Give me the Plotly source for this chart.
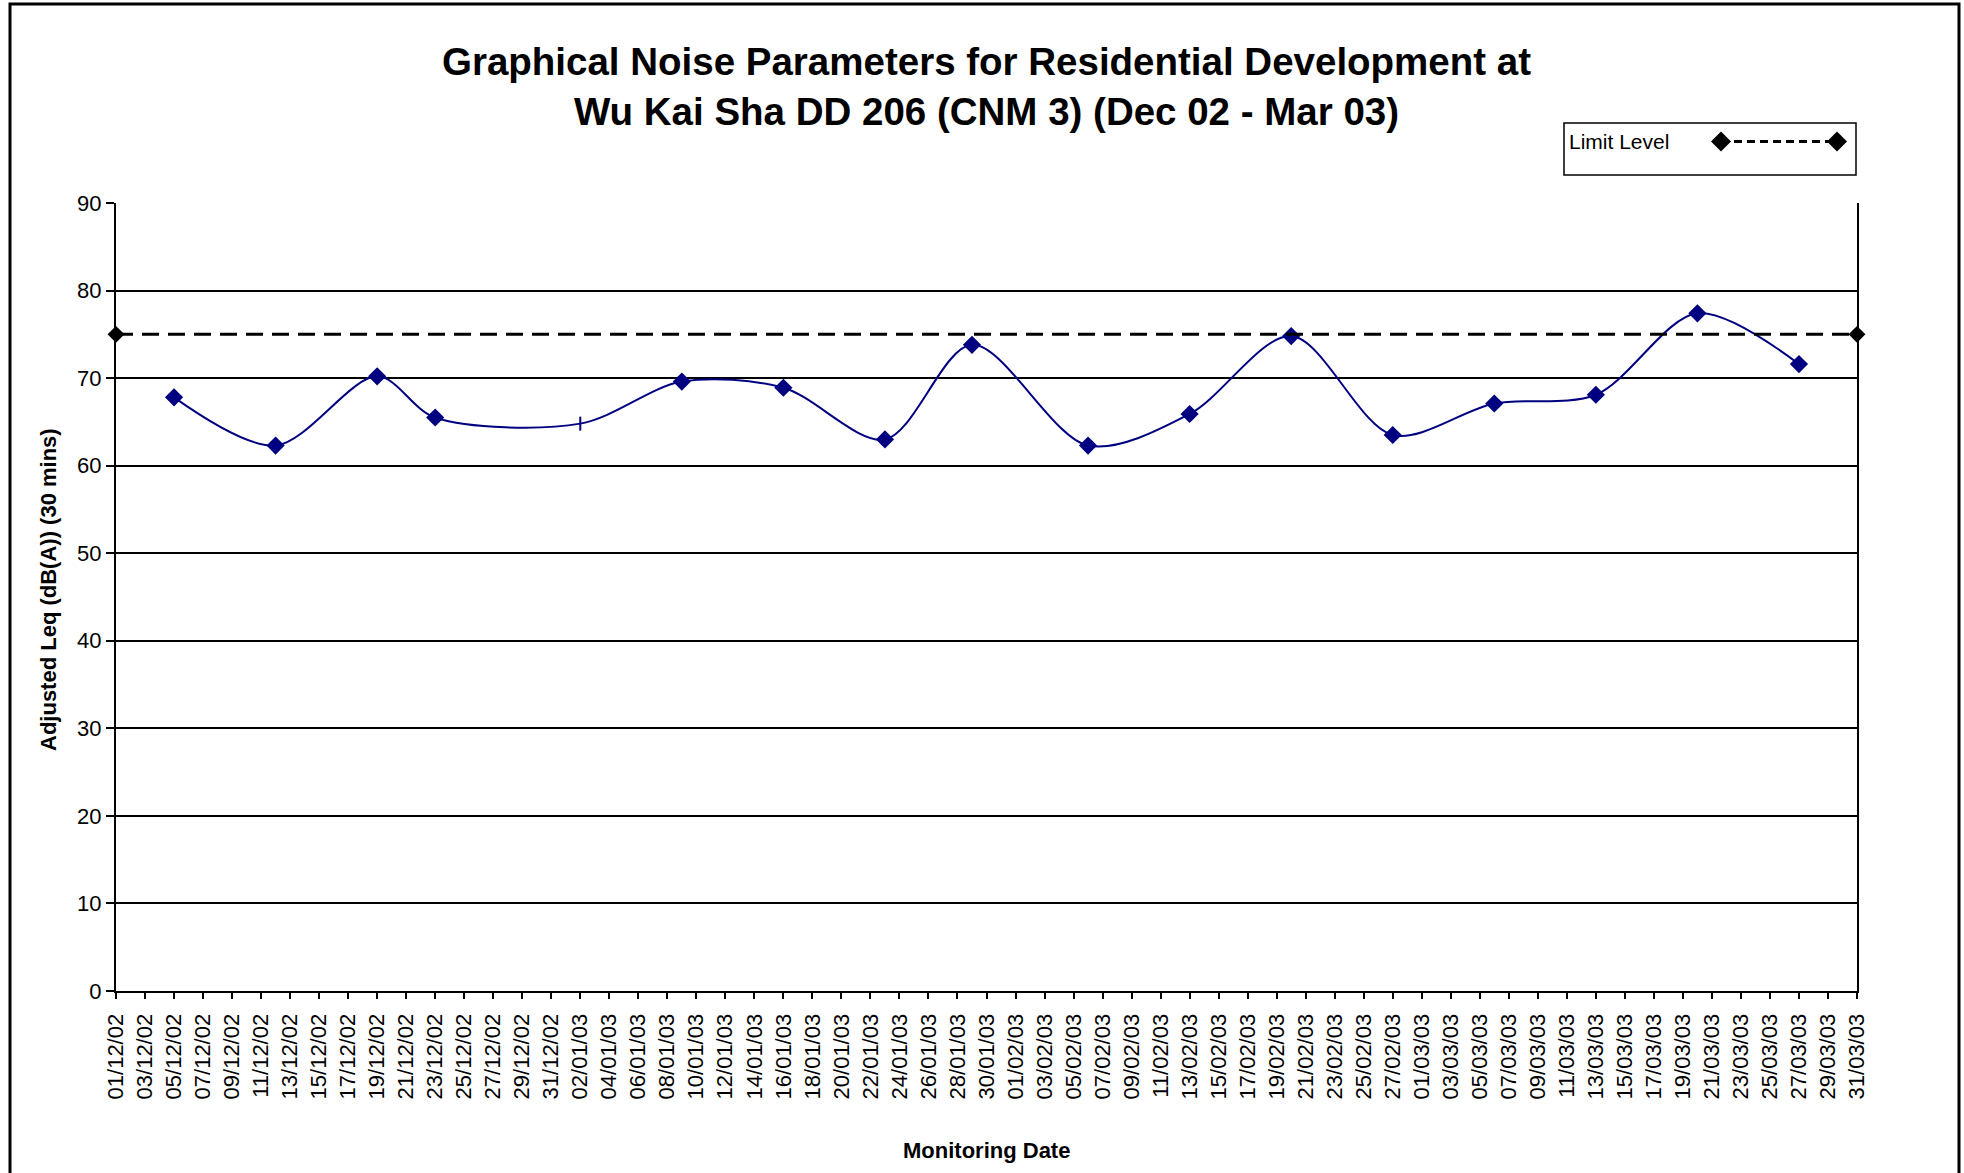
import plotly.graph_objects as go

# ---- data ----
dates = ["2002-12-05", "2002-12-12", "2002-12-19", "2002-12-23", "2003-01-02",
         "2003-01-09", "2003-01-16", "2003-01-23", "2003-01-29", "2003-02-06",
         "2003-02-13", "2003-02-20", "2003-02-27", "2003-03-06", "2003-03-13",
         "2003-03-20", "2003-03-27"]
leq = [67.8, 62.3, 70.2, 65.5, 64.8, 69.6, 68.9, 63.0, 73.8, 62.3,
       65.9, 74.8, 63.5, 67.1, 68.1, 77.4, 71.6]
marker_kind = ["diamond", "diamond", "diamond", "diamond", "line-ns",
               "diamond", "diamond", "diamond", "diamond", "diamond",
               "diamond", "diamond", "diamond", "diamond", "diamond",
               "diamond", "diamond"]

limit_dates = ["2002-12-01", "2003-03-31"]
limit_values = [75, 75]

y_ticks = [0, 10, 20, 30, 40, 50, 60, 70, 80, 90]

title_text = ("Graphical Noise Parameters for Residential Development at<br>"
              "Wu Kai Sha DD 206 (CNM 3) (Dec 02 - Mar 03)")
ytitle = "Adjusted Leq (dB(A)) (30 mins)"
xtitle = "Monitoring Date"
legend_name = "Limit Level"

FONT = "Liberation Sans, Arial, sans-serif"
NAVY = "#000080"

W, H = 1964, 1173
# plot-area geometry in page pixels
L, R, T, B = 116, 1857, 203, 991
PW, PH = R - L, B - T


def px(x):
    return (x - L) / PW


def py(y):
    return (B - y) / PH


fig = go.Figure()

fig.add_trace(go.Scatter(
    x=dates, y=leq, mode="lines+markers",
    line=dict(color=NAVY, width=2, shape="spline", smoothing=0.9),
    marker=dict(symbol=marker_kind, size=[14 if m == "diamond" else 10 for m in marker_kind],
                color=NAVY, opacity=1,
                line=dict(color=NAVY, width=[0 if m == "diamond" else 2 for m in marker_kind])),
    showlegend=False, cliponaxis=False,
))

fig.add_trace(go.Scatter(
    x=limit_dates, y=limit_values, mode="lines+markers", name=legend_name,
    line=dict(color="black", width=3, dash="17px,9px"),
    marker=dict(symbol="diamond", size=13, color="black", opacity=1),
    showlegend=False, cliponaxis=False,
))

shapes = []
# outer chart border
shapes.append(dict(type="rect", xref="paper", yref="paper",
                   x0=px(10), x1=px(1959), y0=py(1200), y1=py(4),
                   line=dict(color="black", width=3), fillcolor="rgba(0,0,0,0)"))
# legend box
lx0, lx1, ly0, ly1 = 1564, 1856, 123, 175
shapes.append(dict(type="rect", xref="paper", yref="paper",
                   x0=px(lx0), x1=px(lx1), y0=py(ly1), y1=py(ly0),
                   line=dict(color="black", width=1.5), fillcolor="white"))
ly = 141.5
d1, d2 = 1721, 1837
shapes.append(dict(type="line", xref="paper", yref="paper",
                   x0=px(d1), x1=px(d2), y0=py(ly), y1=py(ly),
                   line=dict(color="black", width=3, dash="8px,5px")))


def diamond(cx, cy, hw=10, hh=10):
    return (f"M{px(cx - hw)},{py(cy)} L{px(cx)},{py(cy - hh)} "
            f"L{px(cx + hw)},{py(cy)} L{px(cx)},{py(cy + hh)} Z")


for dx in (d1, d2):
    shapes.append(dict(type="path", xref="paper", yref="paper",
                       path=diamond(dx, ly), fillcolor="black",
                       line=dict(color="black", width=0)))

annotations = [
    dict(text=legend_name, xref="paper", yref="paper", x=px(1567), y=py(ly),
         xanchor="left", yanchor="middle", showarrow=False,
         font=dict(family=FONT, size=21, color="black")),
    dict(text=f"<b>{xtitle}</b>", xref="paper", yref="paper", x=0.5, y=py(1150),
         xanchor="center", yanchor="middle", showarrow=False,
         font=dict(family=FONT, size=22, color="black")),
    dict(text=f"<b>{ytitle}</b>", xref="paper", yref="paper", x=px(48), y=py(590),
         xanchor="center", yanchor="middle", textangle=-90, showarrow=False,
         font=dict(family=FONT, size=22, color="black")),
]

fig.update_layout(
    width=W, height=H,
    margin=dict(l=L, r=W - R, t=T, b=H - B, pad=0),
    paper_bgcolor="white", plot_bgcolor="white",
    title=dict(text=f"<b>{title_text}</b>", x=0.5, xref="paper",
               y=1 - 75 / H, yref="container", yanchor="middle",
               font=dict(family=FONT, size=38.5, color="black")),
    shapes=shapes, annotations=annotations,
    font=dict(family=FONT, color="black"),
)

fig.update_xaxes(
    type="date", range=[limit_dates[0], limit_dates[1]],
    tick0=limit_dates[0], dtick=2 * 86400000, tickformat="%d/%m/%y",
    tickangle=-90, tickfont=dict(family=FONT, size=22, color="black"),
    ticks="outside", ticklen=6, tickwidth=1.5, tickcolor="black",
    showline=True, linecolor="black", linewidth=2, mirror=False,
    showgrid=False, zeroline=False, ticklabelstandoff=6,
)
fig.update_yaxes(
    range=[0, 90], tickvals=y_ticks, ticktext=[str(v) for v in y_ticks],
    tickfont=dict(family=FONT, size=22, color="black"),
    ticks="outside", ticklen=8, tickwidth=1.5, tickcolor="black",
    showline=True, linecolor="black", linewidth=2, mirror=True,
    showgrid=True, gridcolor="black", gridwidth=1.6, zeroline=False,
)

fig.write_html(
    "out.html",
    config={"displayModeBar": False},
    post_script="document.body.style.margin='0px';document.body.style.overflow='hidden';",
)
